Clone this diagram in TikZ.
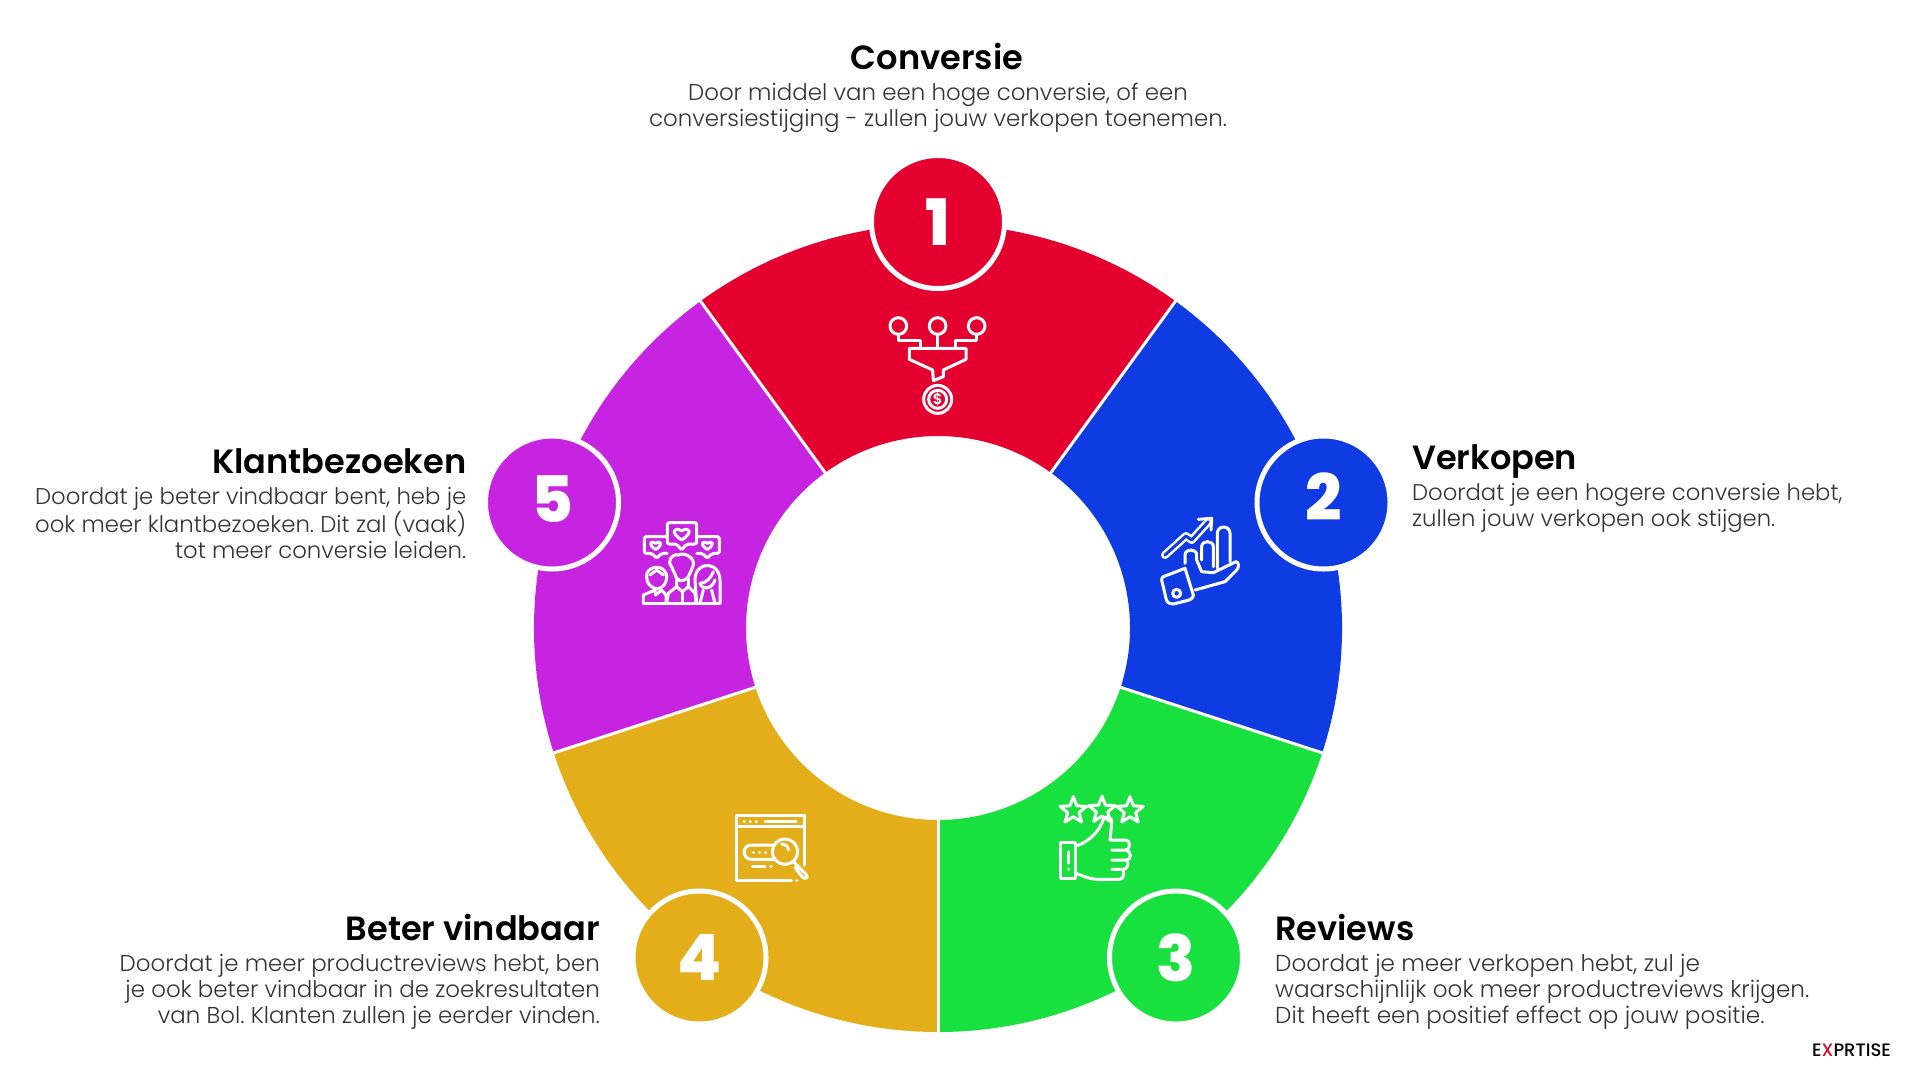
\documentclass[tikz,border=0pt]{standalone}
\usepackage{fontspec}
\setmainfont{Poppins}[UprightFont=* Light,BoldFont=* SemiBold]
\newfontfamily\headfont{Poppins}[UprightFont=* SemiBold]
\newfontfamily\numfont{Poppins}[UprightFont=* ExtraBold]
\newfontfamily\logofont{Poppins}[UprightFont=* Medium]
\frenchspacing
\definecolor{cred}{HTML}{E4002F}
\definecolor{cblue}{HTML}{0F3BE3}
\definecolor{cgreen}{HTML}{17E03F}
\definecolor{cgold}{HTML}{E3AE19}
\definecolor{cpurple}{HTML}{C724E1}
\definecolor{ctext}{HTML}{333333}
\definecolor{logored}{HTML}{C8102E}
\tikzset{
  numdisc/.style={circle,draw=white,line width=5pt,minimum size=133pt,inner sep=0pt,text=white,font=\numfont\fontsize{64}{64}\selectfont},
  headtext/.style={text=black,font=\headfont\fontsize{33.6}{36}\selectfont,inner sep=0pt},
  bodytext/.style={text=ctext,font=\fontsize{#1}{26}\selectfont,inner sep=0pt},
  bodytext/.default=22.9,
  sep/.style={white,line width=3pt},
  ico/.style={draw=white,line width=3pt,line join=round,line cap=round},
  zoomed/.style={x=.33333pt,y=-.33333pt}
}
\newcommand{\sector}[3]{\fill[#1] (#2:192) arc[start angle=#2,end angle=#3,radius=192] -- (#3:404) arc[start angle=#3,end angle=#2,radius=404] -- cycle;}
\newcommand{\hrt}[3]{\draw[ico] (#1,#2+#3*.9) .. controls (#1-#3*1.5,#2) and (#1-#3*1.2,#2-#3) .. (#1,#2-#3*.35) .. controls (#1+#3*1.2,#2-#3) and (#1+#3*1.5,#2) .. (#1,#2+#3*.9) -- cycle;}
\newcommand{\strat}[2]{\begin{scope}[shift={(#1,#2)}]\draw[ico] (-90:42) -- (-54:18) -- (-18:42) -- (18:18) -- (54:42) -- (90:18) -- (126:42) -- (162:18) -- (198:42) -- (234:18) -- cycle;\end{scope}}
\begin{document}
\begin{tikzpicture}[x=1pt,y=-1pt]
\useasboundingbox (0,0) rectangle (1920,1080);
\fill[white] (0,0) rectangle (1920,1080);
% wheel
\begin{scope}[shift={(938,628)},y=1pt]
\sector{cred}{54}{126}
\sector{cblue}{-18}{54}
\sector{cgreen}{-90}{-18}
\sector{cgold}{198}{270}
\sector{cpurple}{126}{198}
\foreach \a in {54,126,198,270,342} \draw[sep] (\a:190) -- (\a:405);
\end{scope}
% number discs
\node[numdisc,fill=cred] (n1) at (938,222) {1};
\node[numdisc,fill=cblue] (n2) at (1323.5,502.5) {\raisebox{11.5pt}{2}};
\node[numdisc,fill=cgreen] (n3) at (1176,957.5) {3};
\node[numdisc,fill=cgold] (n4) at (699.5,957.5) {4};
\node[numdisc,fill=cpurple] (n5) at (552,502.5) {\raisebox{7pt}{5}};
% texts
\node[headtext,anchor=center] (h1) at (937,56.5) {Conversie};
\node[bodytext,align=center,anchor=north] (b1) at (938,83) {Door middel van een hoge conversie, of een\\conversiestijging - zullen jouw verkopen toenemen.};
\node[headtext,anchor=west] (h2) at (1412,461) {Verkopen};
\node[bodytext=22.7,align=left,anchor=north west] (b2) at (1412,483) {Doordat je een hogere conversie hebt,\\zullen jouw verkopen ook stijgen.};
\node[headtext,anchor=west] (h3) at (1275,927.5) {Reviews};
\node[bodytext=23.1,align=left,anchor=north west] (b3) at (1275,954) {Doordat je meer verkopen hebt, zul je\\waarschijnlijk ook meer productreviews krijgen.\\Dit heeft een positief effect op jouw positie.};
\node[headtext,anchor=east] (h4) at (600,927.5) {Beter vindbaar};
\node[bodytext=22.9,align=right,anchor=north east] (b4) at (600,954) {Doordat je meer productreviews hebt, ben\\je ook beter vindbaar in de zoekresultaten\\van Bol. Klanten zullen je eerder vinden.};
\node[headtext,anchor=east] (h5) at (466.5,461.5) {Klantbezoeken};
\node[bodytext=22.8,align=right,anchor=north east] (b5) at (466.5,487) {Doordat je beter vindbaar bent, heb je\\ook meer klantbezoeken. Dit zal (vaak)\\tot meer conversie leiden.};
\node[inner sep=0pt,anchor=base east,font=\logofont\fontsize{18}{20}\selectfont,text=black] (logo) at (1891,1056) {E\textcolor{logored}{X}PRTISE};
% icon 1: funnel
\begin{scope}[shift={(860,150)},zoomed]
\foreach \cx in {115,233,350} \draw[ico] (\cx,528) circle[radius=25];
\draw[ico] (115,553) -- (115,572) -- (180,572) -- (180,595);
\draw[ico] (233,553) -- (233,595);
\draw[ico] (350,553) -- (350,572) -- (285,572) -- (285,595);
\draw[ico] (148,595) -- (318,595) -- (318,628) -- (250,660) -- (250,680) -- (220,692) -- (218,660) -- (148,628) -- cycle;
\draw[ico] (233,748) circle[radius=42];
\draw[ico] (233,748) circle[radius=27];
\node[inner sep=0pt,text=white,font=\headfont\fontsize{15}{15}\selectfont] (dollar) at (233,748) {\$};
\end{scope}
% icon 2: hand with chart
\begin{scope}[shift={(1130,420)},zoomed]
\draw[white,line width=8pt,line cap=round,line join=round] (105,405) -- (168,348) -- (185,360) -- (235,305);
\draw[cblue,line width=3pt,line cap=round,line join=round] (105,405) -- (168,348) -- (185,360) -- (235,305);
\draw[ico] (205,298) -- (245,295) -- (243,330);
\draw[ico] (262,445) -- (262,340) .. controls (262,315) and (300,315) .. (300,340) -- (300,425);
\draw[ico] (215,420) -- (215,380) .. controls (215,360) and (250,360) .. (250,380) -- (250,440);
\draw[ico] (165,430) -- (165,405) .. controls (165,385) and (200,385) .. (200,405) -- (200,420) -- (215,455) -- (250,458) -- (318,425) .. controls (328,425) and (328,445) .. (318,452) -- (285,485) -- (195,510);
\draw[ico] (100,470) -- (165,445) -- (190,525) .. controls (190,535) and (180,540) .. (170,542) -- (130,552) .. controls (115,552) and (110,545) .. (108,535) -- (95,480) .. controls (95,475) and (97,472) .. (100,470) -- cycle;
\draw[ico] (140,520) circle[radius=12];
\end{scope}
% icon 3: stars and thumb
\begin{scope}[shift={(1020,770)},zoomed]
\strat{160}{122}
\strat{246}{120}
\strat{330}{122}
\draw[ico] (120,218) rectangle (165,325);
\draw[ico] (145,245) -- (145,280);
\draw[ico] (145,297) -- (145,298);
\draw[ico] (168,228) .. controls (210,215) and (240,180) .. (250,148) .. controls (258,135) and (278,140) .. (275,160) -- (270,210) -- (318,210) .. controls (332,212) and (332,238) .. (318,240) -- (275,240);
\draw[ico] (318,240) .. controls (335,245) and (335,268) .. (320,270) -- (275,270);
\draw[ico] (320,270) .. controls (328,280) and (322,298) .. (310,298) -- (275,298);
\draw[ico] (310,298) .. controls (312,315) and (310,328) .. (298,328) -- (235,328) .. controls (210,328) and (190,318) .. (168,310);
\end{scope}
% icon 4: browser search
\begin{scope}[shift={(620,780)},zoomed]
\draw[ico] (552,255) -- (552,105) -- (348,105) -- (348,300) -- (515,300);
\draw[ico] (530,300) -- (531,300);
\draw[ico] (348,140) -- (552,140);
\foreach \cx in {372,390,408} \draw[ico] (\cx,125) -- (\cx+1,125);
\draw[ico] (435,125) -- (528,125);
\draw[ico] (460,195) -- (395,195) .. controls (365,195) and (365,238) .. (395,238) -- (460,238);
\foreach \cx in {400,418,436} \draw[ico] (\cx,218) -- (\cx+1,218);
\draw[ico] (495,215) circle[radius=38];
\draw[ico] (520,245) -- (530,255);
\draw[ico] (530,255) -- (558,283) .. controls (568,292) and (555,300) .. (546,290) -- (525,262);
\draw[ico] (485,192) .. controls (497,192) and (505,200) .. (505,210);
\draw[ico] (398,260) -- (435,260);
\draw[ico] (452,260) -- (453,260);
\end{scope}
% icon 5: people and hearts
\begin{scope}[shift={(480,420)},zoomed]
\draw[ico,rounded corners=2pt] (562,308) -- (650,308) -- (650,372) -- (620,372) -- (605,390) -- (590,372) -- (562,372) -- cycle;
\hrt{605}{340}{22}
\draw[ico,rounded corners=2pt] (562,350) -- (493,350) -- (493,400) -- (516,400) -- (530,415) -- (544,400) -- (562,400);
\hrt{527}{375}{15}
\draw[ico,rounded corners=2pt] (650,350) -- (718,350) -- (718,400) -- (696,400) -- (682,415) -- (668,400) -- (650,400);
\hrt{682}{375}{15}
% people
\draw[ico] (490,550) -- (720,550);
\draw[ico] (490,550) -- (490,525) -- (525,510) -- (527,525) -- (545,510) -- (558,525) -- (558,550);
\draw[ico] (500,470) .. controls (495,440) and (555,425) .. (560,470) .. controls (560,500) and (535,510) .. (525,505) .. controls (510,500) and (500,490) .. (500,470) -- cycle;
\draw[ico] (510,465) -- (530,450) -- (550,465);
\draw[ico] (575,440) .. controls (560,425) and (575,400) .. (595,405) .. controls (615,395) and (645,415) .. (640,435) -- (630,460) .. controls (625,480) and (600,490) .. (590,475) -- (575,440) -- cycle;
\draw[ico] (590,480) -- (590,500) -- (565,520) -- (560,550);
\draw[ico] (625,475) -- (625,500) -- (645,520) -- (648,550);
\draw[ico] (590,500) -- (607,515) -- (625,500);
\draw[ico] (607,515) -- (607,550);
\draw[ico] (650,550) -- (645,480) .. controls (645,420) and (725,420) .. (720,490) -- (720,550);
\draw[ico] (660,490) .. controls (680,490) and (695,470) .. (700,455);
\draw[ico] (660,490) .. controls (665,510) and (695,510) .. (705,480);
\draw[ico] (670,510) -- (660,550);
\draw[ico] (695,510) -- (705,550);
\end{scope}
\end{tikzpicture}
\end{document}
